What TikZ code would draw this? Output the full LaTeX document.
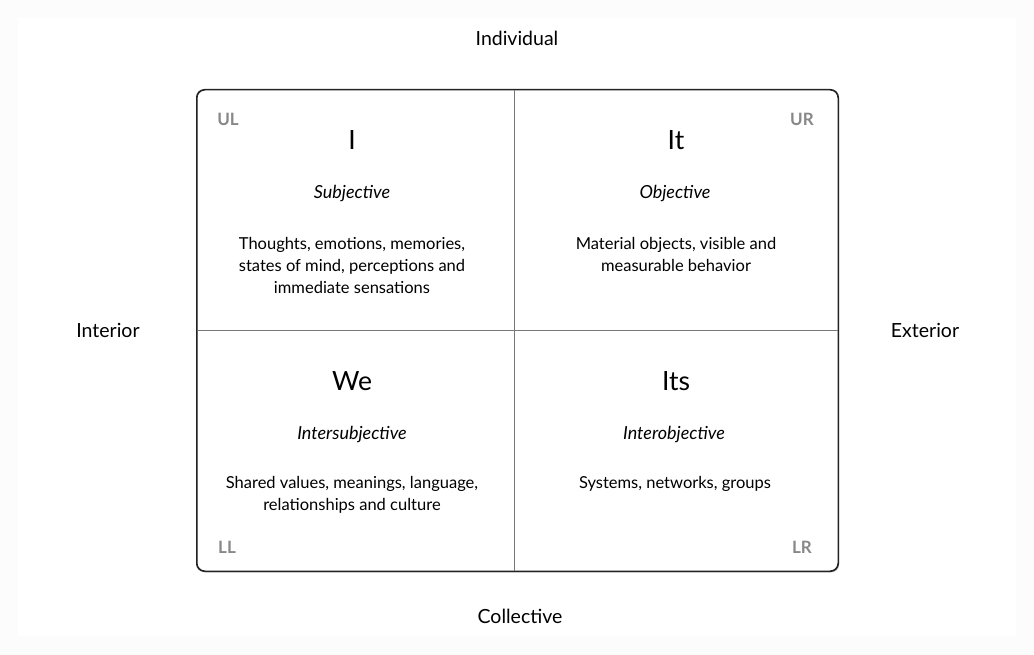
\documentclass[tikz,border=0pt]{standalone}
\usepackage{fontspec}
\setmainfont{Lato}
\usetikzlibrary{shadows}
\definecolor{frame}{HTML}{222222}
\definecolor{grid}{HTML}{777777}
\definecolor{corner}{HTML}{888888}
\definecolor{bgout}{HTML}{FCFCFC}
\tikzset{
  axis/.style={font=\fontsize{19.5}{22}\selectfont, text=black},
  title/.style={font=\fontsize{26.5}{30}\selectfont, text=black},
  kind/.style={font=\fontsize{18}{22}\selectfont\itshape, text=black},
  body/.style={font=\fontsize{16.5}{22}\selectfont, align=center, text=black},
  cornerlbl/.style={font=\fontsize{17}{18}\selectfont\bfseries, text=corner},
}
\begin{document}
\begin{tikzpicture}[x=1pt,y=-1pt]
\useasboundingbox (0,0) rectangle (1034,655);
\fill[bgout] (0,0) rectangle (1034,655);
\fill[white] (18,18) rectangle (1016,636);
% frame
\node[draw=frame, line width=1pt, rounded corners=8pt, fill=white,
  minimum width=641pt, minimum height=481pt, inner sep=0pt,
  drop shadow={shadow xshift=1pt, shadow yshift=-1.5pt, opacity=0.35}]
  (box) at (517.5,330.5) {};
\coordinate (vt) at (514,90);
\coordinate (vb) at (514,571);
\draw[grid, line width=0.8pt] (vt) -- (vb);
\draw[grid, line width=0.8pt] (box.west) -- (box.east);
\draw[frame, line width=1pt, rounded corners=8pt] (box.north west) rectangle (box.south east);
% axis labels
\node[axis] (ind) at (517,38) {Individual};
\node[axis] (col) at (520,616) {Collective};
\node[axis] (int) at (108,330) {Interior};
\node[axis] (ext) at (925,330) {Exterior};
% corner labels
\node[cornerlbl] (ul) at (228,119) {UL};
\node[cornerlbl] (ur) at (802,119) {UR};
\node[cornerlbl] (ll) at (227,547) {LL};
\node[cornerlbl] (lr) at (802,547) {LR};
% UL
\node[title] (tI) at (352,140) {I};
\node[kind] (kI) at (352,193.5) {Subjective};
\node[body] (bI) at (352,265) {Thoughts, emotions, memories,\\states of mind, perceptions and\\immediate sensations};
% UR
\node[title] (tIt) at (676,140) {It};
\node[kind] (kIt) at (675,193.5) {Objective};
\node[body] (bIt) at (676,254) {Material objects, visible and\\measurable behavior};
% LL
\node[title] (tWe) at (352,381) {We};
\node[kind] (kWe) at (352,434.5) {Intersubjective};
\node[body] (bWe) at (352,495) {Shared values, meanings, language,\\relationships and culture};
% LR
\node[title] (tIts) at (676,381) {Its};
\node[kind] (kIts) at (674,434.5) {Interobjective};
\node[body] (bIts) at (675,484) {Systems, networks, groups};
\end{tikzpicture}
\end{document}
